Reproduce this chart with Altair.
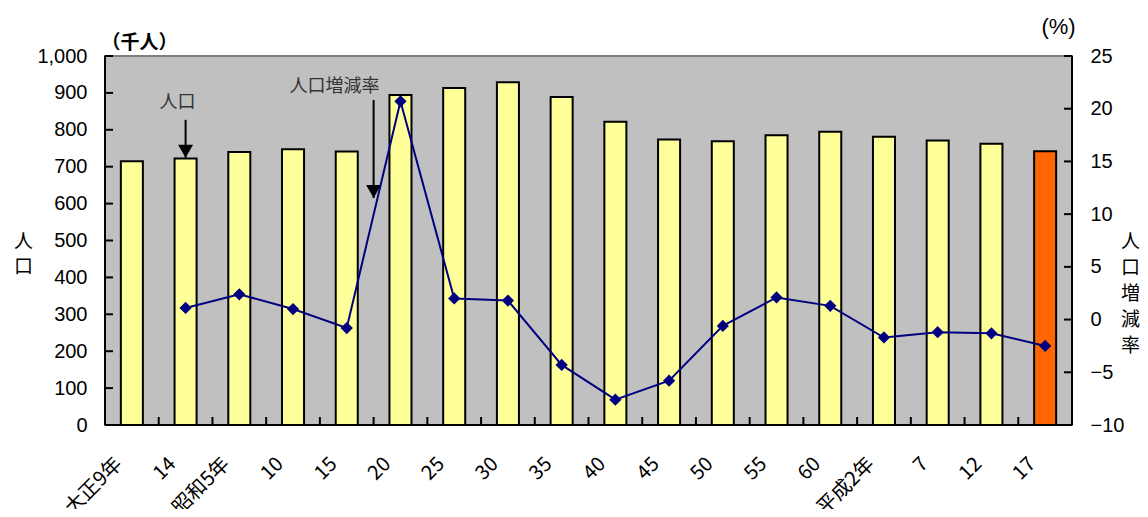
import altair as alt
import pandas as pd

# ---- data ----
categories = ["大正9年", "14", "昭和5年", "10", "15", "20", "25", "30", "35",
              "40", "45", "50", "55", "60", "平成2年", "7", "12", "17"]
population = [715, 722, 740, 747, 741, 894, 913, 929, 889, 822, 774, 769,
              785, 795, 781, 771, 762, 742]
growth_rate = [None, 1.1, 2.4, 1.0, -0.8, 20.7, 2.0, 1.8, -4.3, -7.6, -5.8,
               -0.6, 2.1, 1.3, -1.7, -1.2, -1.3, -2.5]
highlight_cat = "17"

pop_range = [0, 1000]
rate_range = [-10, 25]
pop_ticks = list(range(0, 1001, 100))
rate_ticks = list(range(-10, 26, 5))

# annotations (in population units)
ann_pop_label = ["人口"]
ann_pop_cat = ["14"]
ann_pop_text_y = [873]
ann_pop_arrow_top = [827]
ann_pop_arrow_tip = [724]

ann_rate_label = ["人口増減率"]
ann_rate_cat = ["20"]
ann_rate_text_y = [916]
ann_rate_arrow_top = [881]
ann_rate_arrow_tip = [615]

W, H = 967, 369
NUM_FONT = "Liberation Sans"
JP_FONT = "Noto Sans CJK JP"
ARROW_HEAD = "M-1,-1.73L1,-1.73L0,0Z"

df = pd.DataFrame({"cat": categories, "pop": population, "rate": growth_rate})
ann1 = pd.DataFrame({"cat": ann_pop_cat, "label": ann_pop_label, "ty": ann_pop_text_y,
                     "top": ann_pop_arrow_top, "tip": ann_pop_arrow_tip})
ann2 = pd.DataFrame({"cat": ann_rate_cat, "label": ann_rate_label, "ty": ann_rate_text_y,
                     "top": ann_rate_arrow_top, "tip": ann_rate_arrow_tip})
pop_tick_df = pd.DataFrame({"v": pop_ticks})
rate_tick_df = pd.DataFrame({"v": rate_ticks})
pop_span_df = pd.DataFrame({"lo": [pop_range[0]], "hi": [pop_range[1]]})
rate_span_df = pd.DataFrame({"lo": [rate_range[0]], "hi": [rate_range[1]]})


def xscale():
    return alt.Scale(domain=categories, paddingInner=0, paddingOuter=0)


def pop_scale():
    return alt.Scale(domain=pop_range, nice=False, zero=True)


def rate_scale():
    return alt.Scale(domain=rate_range, nice=False, zero=False)


# ---- population bars (carry the left y labels) ----
bars = alt.Chart(df).mark_bar(
    width=alt.RelativeBandSize(0.41), stroke="black", strokeWidth=2
).encode(
    x=alt.X("cat:N", scale=xscale(), axis=None),
    y=alt.Y("pop:Q", scale=pop_scale(), axis=alt.Axis(
        orient="left", values=pop_ticks, format=",.0f", ticks=False, domain=False,
        title=["人", "口"], titleAngle=0, titleAlign="center", titleBaseline="middle",
        titleX=-82, titleY=185, titleLineHeight=25)),
    color=alt.condition(alt.datum.cat == highlight_cat, alt.value("#FF6600"),
                        alt.value("#FFFF99")),
)

# ---- category labels, rotated like the reference ----
xlabels = alt.Chart(df).mark_text(
    angle=315, align="right", baseline="middle", font=JP_FONT, fontSize=20,
    color="black"
).encode(
    x=alt.X("cat:N", scale=xscale(), axis=None, bandPosition=0.26),
    y=alt.value(H + 36),
    text="cat:N",
)

# ---- axis lines ----
left_line = alt.Chart(pop_span_df).mark_rule(color="black", strokeWidth=2).encode(
    x=alt.value(0),
    y=alt.Y("lo:Q", scale=pop_scale(), axis=None),
    y2="hi:Q",
)
right_line = alt.Chart(rate_span_df).mark_rule(color="black", strokeWidth=2).encode(
    x=alt.value(W),
    y=alt.Y("lo:Q", scale=rate_scale(), axis=None),
    y2="hi:Q",
)
bottom_line = alt.Chart(pop_span_df).mark_rule(color="black", strokeWidth=2).encode(
    y=alt.Y("lo:Q", scale=pop_scale(), axis=None),
    x=alt.value(0),
    x2=alt.value(W),
)

# ---- inward tick marks on the three axes ----
pop_tickmarks = alt.Chart(pop_tick_df).mark_rule(color="black", strokeWidth=2).encode(
    y=alt.Y("v:Q", scale=pop_scale(), axis=alt.Axis(
        orient="right", offset=-W, labels=False, ticks=False, domain=False,
        title="（千人）", titleAngle=0, titleAlign="center", titleBaseline="middle",
        titleX=34, titleY=-14, titleFontWeight="bold")),
    x=alt.value(0),
    x2=alt.value(8),
)
rate_tickmarks = alt.Chart(rate_tick_df).mark_rule(color="black", strokeWidth=2).encode(
    y=alt.Y("v:Q", scale=rate_scale(), axis=alt.Axis(
        orient="left", offset=-W, labels=False, ticks=False, domain=False,
        title="(%)", titleAngle=0, titleAlign="center", titleBaseline="middle",
        titleX=-14, titleY=-30, titleFont=NUM_FONT, titleFontSize=22)),
    x=alt.value(W - 8),
    x2=alt.value(W),
)
x_tickmarks = alt.Chart(df).mark_rule(color="black", strokeWidth=2).encode(
    x=alt.X("cat:N", scale=xscale(), axis=None, bandPosition=0),
    y=alt.value(H - 8),
    y2=alt.value(H),
)

# ---- annotation "人口" ----
arrow1 = alt.Chart(ann1).mark_rule(color="black", strokeWidth=2).encode(
    x=alt.X("cat:N", scale=xscale(), axis=None),
    y=alt.Y("top:Q", scale=pop_scale(), axis=None),
    y2="tip:Q",
)
head1 = alt.Chart(ann1).mark_point(
    shape=ARROW_HEAD, filled=True, color="black", size=225, opacity=1
).encode(
    x=alt.X("cat:N", scale=xscale(), axis=None),
    y=alt.Y("tip:Q", scale=pop_scale(), axis=None),
)
text1 = alt.Chart(ann1).mark_text(
    font=JP_FONT, fontSize=18, color="#333333", dx=-8
).encode(
    x=alt.X("cat:N", scale=xscale(), axis=None),
    y=alt.Y("ty:Q", scale=pop_scale(), axis=None),
    text="label:N",
)

# ---- annotation "人口増減率" ----
arrow2 = alt.Chart(ann2).mark_rule(color="black", strokeWidth=2).encode(
    x=alt.X("cat:N", scale=xscale(), axis=None, bandPosition=0),
    y=alt.Y("top:Q", scale=pop_scale(), axis=None),
    y2="tip:Q",
)
head2 = alt.Chart(ann2).mark_point(
    shape=ARROW_HEAD, filled=True, color="black", size=225, opacity=1
).encode(
    x=alt.X("cat:N", scale=xscale(), axis=None, bandPosition=0),
    y=alt.Y("tip:Q", scale=pop_scale(), axis=None),
)
text2 = alt.Chart(ann2).mark_text(
    font=JP_FONT, fontSize=18, color="#333333", align="right", dx=6
).encode(
    x=alt.X("cat:N", scale=xscale(), axis=None, bandPosition=0),
    y=alt.Y("ty:Q", scale=pop_scale(), axis=None),
    text="label:N",
)

# ---- growth-rate line (right labels) and diamonds ----
line = alt.Chart(df).mark_line(color="#000080", strokeWidth=2).encode(
    x=alt.X("cat:N", scale=xscale(), axis=None),
    y=alt.Y("rate:Q", scale=rate_scale(), axis=alt.Axis(
        orient="right", values=rate_ticks, ticks=False, domain=False,
        title=list("人口増減率"), titleAngle=0, titleAlign="center",
        titleBaseline="middle", titleX=58, titleY=185, titleLineHeight=26)),
)
points = alt.Chart(df).mark_point(
    shape="diamond", filled=True, color="#000080", size=150, opacity=1
).encode(
    x=alt.X("cat:N", scale=xscale(), axis=None),
    y=alt.Y("rate:Q", scale=rate_scale(), axis=None),
)

chart = alt.layer(
    bars, pop_tickmarks, rate_tickmarks, x_tickmarks,
    left_line, right_line, bottom_line, xlabels,
    arrow1, head1, text1, arrow2, head2, text2, line, points
).resolve_scale(y="independent").resolve_axis(
    x="independent", y="independent"
).properties(
    width=W, height=H, background="white",
    autosize=alt.AutoSizeParams(type="none"),
    padding={"left": 97, "top": 48, "right": 68, "bottom": 84},
).configure_view(
    fill="#C0C0C0", stroke="#808080", strokeWidth=2
).configure_axis(
    grid=False,
    labelFont=NUM_FONT, labelFontSize=20, labelColor="black", labelPadding=18,
    titleFont=JP_FONT, titleFontSize=19, titleFontWeight="normal",
    titleColor="black",
)

chart.save("out.html", embed_options={"renderer": "svg", "actions": False})
